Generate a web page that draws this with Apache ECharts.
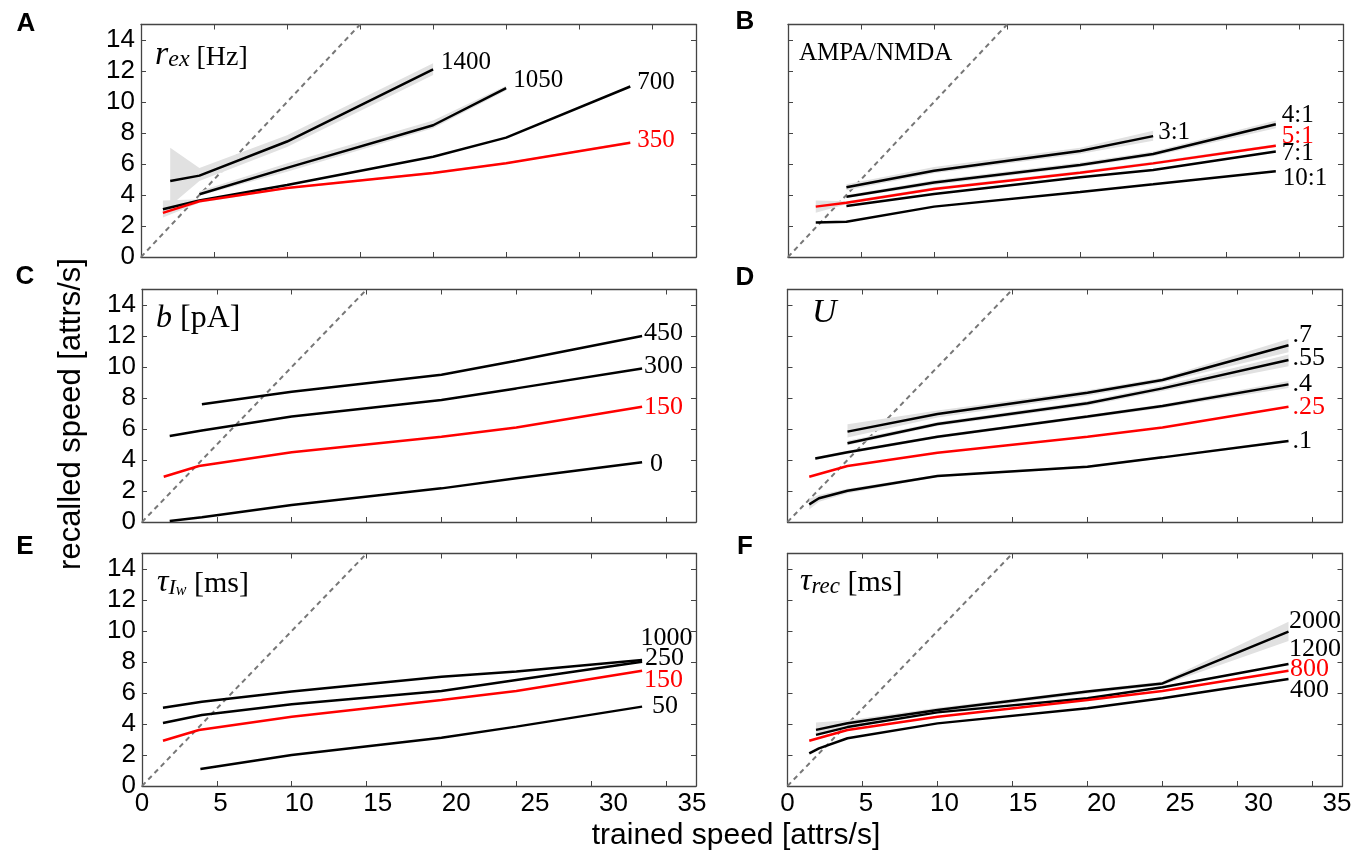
<!DOCTYPE html>
<html><head><meta charset="utf-8">
<script src="https://cdn.jsdelivr.net/npm/echarts@6/dist/echarts.min.js"></script>
<style>html,body{margin:0;padding:0;background:#fff}#c{width:1368px;height:854px}</style>
</head><body><div id="c"></div>
<script>
// ---------- tick labels ----------
const xTickLabels = [0, 5, 10, 15, 20, 25, 30, 35];
const yTickLabels = [0, 2, 4, 6, 8, 10, 12, 14];
const diagX = [0, 15];
const diagY = [0, 15];

// ---------- Panel A : r_ex [Hz] ----------
const A_x350 = [1.5, 4, 10, 20, 25, 33.5];
const A_y350 = [2.85, 3.6, 4.45, 5.42, 6.05, 7.37];
const A_x700 = [1.5, 4, 10, 20, 25, 33.5];
const A_y700 = [3.08, 3.65, 4.65, 6.47, 7.7, 11.0];
const A_x1050 = [4, 10, 20, 25];
const A_y1050 = [4.05, 5.75, 8.5, 10.9];
const A_x1400 = [2, 4, 10, 20];
const A_y1400 = [4.9, 5.25, 7.45, 12.1];
const A_lo1400 = [3.3, 4.9, 7.1, 11.75];
const A_hi1400 = [7.05, 5.75, 7.85, 12.5];
const A_lo1050 = [3.95, 5.5, 8.3, 10.75];
const A_hi1050 = [4.25, 6.05, 8.8, 11.05];
const A_lo350 = [2.55, 3.5, 4.38, 5.36, 6.0, 7.3];
const A_hi350 = [3.65, 3.72, 4.52, 5.5, 6.12, 7.45];

// ---------- Panel B : AMPA/NMDA ----------
const B_x31 = [4, 10, 20, 25];
const B_y31 = [4.5, 5.57, 6.84, 7.8];
const B_x41 = [4, 10, 20, 25, 33.4];
const B_y41 = [3.89, 4.8, 5.94, 6.65, 8.56];
const B_x51 = [1.9, 4, 10, 20, 25, 33.4];
const B_y51 = [3.25, 3.5, 4.39, 5.44, 6.04, 7.18];
const B_x71 = [4, 10, 20, 25, 33.4];
const B_y71 = [3.29, 4.06, 5.14, 5.61, 6.8];
const B_x101 = [1.9, 4, 10, 20, 25, 33.4];
const B_y101 = [2.22, 2.28, 3.25, 4.2, 4.69, 5.53];
const B_lo31 = [4.3, 5.4, 6.65, 7.5];
const B_hi31 = [4.7, 5.8, 7.05, 8.15];
const B_lo41 = [3.8, 4.65, 5.8, 6.5, 8.3];
const B_hi41 = [4.0, 4.95, 6.1, 6.8, 8.8];
const B_lo51 = [2.85, 3.4, 4.3, 5.35, 5.95, 7.1];
const B_hi51 = [3.65, 3.6, 4.5, 5.55, 6.15, 7.28];

// ---------- Panel C : b [pA] ----------
const C_x450 = [4, 10, 20, 25, 33.4];
const C_y450 = [7.6, 8.4, 9.5, 10.4, 12.0];
const C_x300 = [1.85, 4, 10, 20, 25, 33.4];
const C_y300 = [5.55, 5.9, 6.8, 7.87, 8.62, 9.9];
const C_x150 = [1.45, 3.8, 10, 20, 25, 33.4];
const C_y150 = [2.92, 3.61, 4.5, 5.5, 6.1, 7.44];
const C_x0 = [1.85, 4, 10, 20, 25, 33.4];
const C_y0 = [0.06, 0.3, 1.1, 2.17, 2.82, 3.85];

// ---------- Panel D : U ----------
const D_x7 = [4, 10, 20, 25, 33.4];
const D_y7 = [5.83, 6.97, 8.34, 9.16, 11.4];
const D_x55 = [4, 10, 20, 25, 33.4];
const D_y55 = [5.08, 6.32, 7.66, 8.62, 10.45];
const D_x4 = [1.85, 4, 10, 20, 25, 33.4];
const D_y4 = [4.1, 4.5, 5.5, 6.8, 7.48, 8.88];
const D_x25 = [1.45, 4, 10, 20, 25, 33.4];
const D_y25 = [2.92, 3.61, 4.47, 5.5, 6.1, 7.44];
const D_x1 = [1.45, 2.1, 4, 10, 20, 25, 33.4];
const D_y1 = [1.14, 1.53, 2.02, 2.97, 3.57, 4.17, 5.23];
const D_lo7 = [5.45, 6.75, 8.15, 9.0, 10.95];
const D_hi7 = [6.3, 7.2, 8.5, 9.3, 11.8];
const D_lo55 = [4.95, 6.2, 7.5, 8.45, 10.05];
const D_hi55 = [5.25, 6.45, 7.8, 8.8, 10.8];
const D_lo4 = [4.0, 4.4, 5.4, 6.7, 7.35, 8.65];
const D_hi4 = [4.2, 4.6, 5.6, 6.9, 7.6, 9.1];
const D_lo1 = [0.8, 1.3, 1.85, 2.9, 3.5, 4.1, 5.15];
const D_hi1 = [1.5, 1.75, 2.15, 3.05, 3.65, 4.25, 5.3];

// ---------- Panel E : tau_Iw [ms] ----------
const E_x1000 = [1.4, 4, 10, 20, 25, 33.4];
const E_y1000 = [5.05, 5.44, 6.1, 7.05, 7.38, 8.13];
const E_x250 = [1.4, 4, 10, 20, 25, 33.4];
const E_y250 = [4.06, 4.58, 5.27, 6.13, 6.84, 8.02];
const E_x150 = [1.4, 3.8, 10, 20, 25, 33.4];
const E_y150 = [2.92, 3.61, 4.47, 5.55, 6.13, 7.44];
const E_x50 = [3.9, 10, 20, 25, 33.4];
const E_y50 = [1.1, 2.0, 3.12, 3.83, 5.12];

// ---------- Panel F : tau_rec [ms] ----------
const F_x2000 = [1.9, 4, 10, 20, 25, 33.4];
const F_y2000 = [3.62, 4.05, 4.9, 6.09, 6.62, 9.96];
const F_x1200 = [1.9, 4, 10, 20, 25, 33.4];
const F_y1200 = [3.3, 3.8, 4.75, 5.66, 6.37, 7.87];
const F_x800 = [1.45, 4, 10, 20, 25, 33.4];
const F_y800 = [2.92, 3.61, 4.47, 5.55, 6.13, 7.44];
const F_x400 = [1.45, 2.1, 4, 10, 20, 25, 33.4];
const F_y400 = [2.1, 2.43, 3.08, 4.04, 5.01, 5.66, 6.9];
const F_lo2000 = [3.3, 3.85, 4.75, 5.95, 6.5, 9.35];
const F_hi2000 = [4.1, 4.25, 5.05, 6.2, 6.75, 10.6];

// ---------- styles ----------
const SANS = 'Liberation Sans, Arial, sans-serif';
const NARROW = 'Liberation Sans Narrow, Arial Narrow, Liberation Sans, sans-serif';
const SERIF = 'Liberation Serif, Times New Roman, serif';
const AX = '#444';
const RED = '#ff0000';
const BLK = '#000000';

const option = {
  animation: false,
  backgroundColor: '#fff',
  grid: [
    {left: 141, top: 24.5, width: 555, height: 232.5},
    {left: 788, top: 24.5, width: 555, height: 232.5},
    {left: 142, top: 289.5, width: 554, height: 232.5},
    {left: 787.5, top: 289.5, width: 555, height: 232.5},
    {left: 142, top: 553.5, width: 554, height: 232.5},
    {left: 787.5, top: 553.5, width: 555, height: 232.5}
  ],
  xAxis: [], yAxis: [], series: [], graphic: []
};

function addAxes(g, xmax, showY, showX, labelMax) {
  const line = {show: true, onZero: false, lineStyle: {color: AX, width: 1.3}};
  const tick = {show: true, inside: true, length: 5, lineStyle: {color: AX, width: 1}};
  const xb = option.xAxis.length;
  ['bottom', 'top'].forEach(p => option.xAxis.push({
    gridIndex: g, type: 'value', min: 0, max: xmax, interval: 5, position: p,
    axisLine: line, axisTick: tick, axisLabel: {show: false}, splitLine: {show: false}
  }));
  if (showX) option.xAxis.push({
    gridIndex: g, type: 'value', min: 0, max: labelMax, interval: 5, position: 'bottom',
    axisLine: {show: false}, axisTick: {show: false}, splitLine: {show: false},
    axisLabel: {show: true, margin: 5, fontFamily: NARROW, fontSize: 26, color: '#000',
      formatter: v => xTickLabels.indexOf(v) >= 0 ? String(v) : ''}
  });
  const yb = option.yAxis.length;
  ['left', 'right'].forEach(p => option.yAxis.push({
    gridIndex: g, type: 'value', min: 0, max: 15, interval: 2, position: p,
    axisLine: line, axisTick: tick, splitLine: {show: false},
    axisLabel: {show: showY && p === 'left', margin: 6, fontFamily: NARROW, fontSize: 26, color: '#000',
      formatter: v => yTickLabels.indexOf(v) >= 0 ? String(v) : ''}
  }));
  return {x: xb, y: yb};
}

function addDiag(ax) {
  option.series.push({type: 'line', xAxisIndex: ax.x, yAxisIndex: ax.y, silent: true, z: 1,
    data: diagX.map((x, i) => [x, diagY[i]]), showSymbol: false, symbol: 'none',
    lineStyle: {color: '#777', width: 2, type: [5, 4]}});
}

function addBand(ax, xs, lo, hi) {
  option.series.push({type: 'custom', xAxisIndex: ax.x, yAxisIndex: ax.y, silent: true, z: 2, clip: true,
    data: xs.map((x, i) => [x, lo[i], hi[i]]),
    encode: {x: 0, y: [1, 2]},
    renderItem: (params, api) => {
      if (params.dataIndex !== 0) return {type: 'group', children: []};
      const top = xs.map((x, i) => api.coord([x, hi[i]]));
      const bot = xs.map((x, i) => api.coord([x, lo[i]])).reverse();
      return {type: 'polygon', shape: {points: top.concat(bot)}, style: {fill: '#e1e1e1'}};
    }});
}

function addLine(ax, xs, ys, color, text, fs, off) {
  option.series.push({type: 'line', xAxisIndex: ax.x, yAxisIndex: ax.y, silent: true, z: 5,
    data: xs.map((x, i) => [x, ys[i]]), showSymbol: false, symbol: 'none',
    lineStyle: {color: color, width: 2.5}, itemStyle: {color: color},
    endLabel: {show: true, formatter: text, color: color, fontFamily: SERIF, fontSize: fs,
      distance: 5, offset: off}});
}

// Panel A
let ax = addAxes(0, 38, true, false);
addDiag(ax);
addBand(ax, A_x1400, A_lo1400, A_hi1400);
addBand(ax, A_x1050, A_lo1050, A_hi1050);
addBand(ax, A_x350, A_lo350, A_hi350);
addLine(ax, A_x1400, A_y1400, BLK, '1400', 25, [3, -7.5]);
addLine(ax, A_x1050, A_y1050, BLK, '1050', 25, [2, -8]);
addLine(ax, A_x700, A_y700, BLK, '700', 25, [2, -4.5]);
addLine(ax, A_x350, A_y350, RED, '350', 25, [2, -2]);

// Panel B
ax = addAxes(1, 38, false, false);
addDiag(ax);
addBand(ax, B_x31, B_lo31, B_hi31);
addBand(ax, B_x41, B_lo41, B_hi41);
addBand(ax, B_x51, B_lo51, B_hi51);
addLine(ax, B_x31, B_y31, BLK, '3:1', 25, [0, -4]);
addLine(ax, B_x41, B_y41, BLK, '4:1', 25, [1, -9]);
addLine(ax, B_x71, B_y71, BLK, '7:1', 25, [1, 2]);
addLine(ax, B_x101, B_y101, BLK, '10:1', 25, [2, 7]);
addLine(ax, B_x51, B_y51, RED, '5:1', 25, [1, -9]);

// Panel C
ax = addAxes(2, 37, true, false);
addDiag(ax);
addLine(ax, C_x450, C_y450, BLK, '450', 26, [-3, -3]);
addLine(ax, C_x300, C_y300, BLK, '300', 26, [-3, -2]);
addLine(ax, C_x0, C_y0, BLK, '0', 26, [3, 2]);
addLine(ax, C_x150, C_y150, RED, '150', 26, [-3, 0]);

// Panel D
ax = addAxes(3, 37, false, false);
addDiag(ax);
addBand(ax, D_x7, D_lo7, D_hi7);
addBand(ax, D_x55, D_lo55, D_hi55);
addBand(ax, D_x4, D_lo4, D_hi4);
addBand(ax, D_x1, D_lo1, D_hi1);
addLine(ax, D_x7, D_y7, BLK, '.7', 26, [-1, -10]);
addLine(ax, D_x55, D_y55, BLK, '.55', 26, [-1, -2]);
addLine(ax, D_x4, D_y4, BLK, '.4', 26, [-1, 0]);
addLine(ax, D_x1, D_y1, BLK, '.1', 26, [-1, 0]);
addLine(ax, D_x25, D_y25, RED, '.25', 26, [-1, 0]);

// Panel E
ax = addAxes(4, 37, true, true, 35.25);
addDiag(ax);
addLine(ax, E_x1000, E_y1000, BLK, '1000', 26, [-6.5, -22]);
addLine(ax, E_x250, E_y250, BLK, '250', 26, [-2, -4]);
addLine(ax, E_x50, E_y50, BLK, '50', 26, [5, 0]);
addLine(ax, E_x150, E_y150, RED, '150', 26, [-3, 9]);

// Panel F
ax = addAxes(5, 37, false, true, 35.35);
addDiag(ax);
addBand(ax, F_x2000, F_lo2000, F_hi2000);
addLine(ax, F_x2000, F_y2000, BLK, '2000', 26, [-4.5, -10.6]);
addLine(ax, F_x1200, F_y1200, BLK, '1200', 26, [-4.5, -15]);
addLine(ax, F_x400, F_y400, BLK, '400', 26, [-3.5, 11]);
addLine(ax, F_x800, F_y800, RED, '800', 26, [-3.5, -2]);

// ---------- texts ----------
function letter(t, x, y) {
  option.graphic.push({type: 'text', x: x, y: y, silent: true,
    style: {text: t, fontFamily: SANS, fontWeight: 'bold', fontSize: 26, fill: '#000', align: 'center', verticalAlign: 'middle'}});
}
letter('A', 26, 24); letter('B', 745, 22);
letter('C', 25, 277); letter('D', 745, 278);
letter('E', 25, 547); letter('F', 745, 547);

function rtitle(text, rich, x, y) {
  option.graphic.push({type: 'text', x: x, y: y, silent: true,
    style: {text: text, rich: rich, align: 'left', verticalAlign: 'middle', fill: '#000'}});
}
const it = (fs, lh) => ({fontFamily: SERIF, fontStyle: 'italic', fontSize: fs, lineHeight: lh, verticalAlign: 'bottom', fill: '#000'});
const rm = (fs, lh) => ({fontFamily: SERIF, fontSize: fs, lineHeight: lh, verticalAlign: 'bottom', fill: '#000'});

rtitle('{a|r}{b|ex}{c| [Hz]}', {a: it(34, 36), b: it(24, 18), c: rm(28, 36)}, 155, 54);
rtitle('{c|AMPA/NMDA}', {c: rm(25, 30)}, 799, 51);
rtitle('{a|b}{c| [pA]}', {a: it(32, 36), c: rm(32, 36)}, 156, 317);
rtitle('{a|U}', {a: it(34, 38)}, 812, 311);
rtitle('{a|τ}{b|I}{d|w}{c| [ms]}', {a: it(32, 36), b: it(22, 18), d: it(16, 6), c: rm(30, 36)}, 157, 581);
rtitle('{a|τ}{b|rec}{c| [ms]}', {a: it(32, 36), b: it(23, 18), c: rm(30, 36)}, 800, 580);

option.graphic.push({type: 'text', x: 71, y: 414, rotation: Math.PI / 2, silent: true,
  style: {text: 'recalled speed [attrs/s]', fontFamily: SANS, fontSize: 31, fill: '#000', align: 'center', verticalAlign: 'middle'}});
option.graphic.push({type: 'text', x: 736, y: 836, silent: true,
  style: {text: 'trained speed [attrs/s]', fontFamily: SANS, fontSize: 30, fill: '#000', align: 'center', verticalAlign: 'middle'}});

const chart = echarts.init(document.getElementById('c'), null, {renderer: 'canvas'});
chart.setOption(option);
</script></body></html>
